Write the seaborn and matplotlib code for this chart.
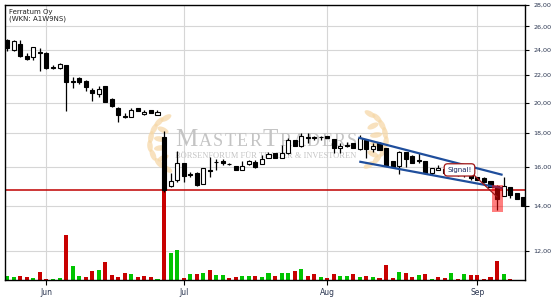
import numpy as np
import pandas as pd
import matplotlib
matplotlib.use("Agg")
import matplotlib.pyplot as plt
import matplotlib.transforms as mtransforms
from matplotlib.ticker import FixedLocator, NullLocator
from matplotlib.patches import Rectangle, Ellipse
import seaborn as sns

# ---------------- data ----------------
title_name = "Ferratum Oy"
title_wkn = "(WKN: A1W9NS)"

opens = [24.82, 23.98, 24.47, 23.49, 23.38, 23.84, 23.73, 22.61, 22.51, 22.77,
         21.57, 21.75, 21.55, 20.89, 20.60, 21.18, 20.25, 19.61, 19.09, 19.01,
         19.61, 19.23, 19.47, 19.16, 17.76, 15.01, 15.31, 16.26, 15.63, 15.70,
         15.10, 15.85, 16.27, 16.32, 16.19, 16.09, 15.83, 16.17, 16.29, 16.17,
         16.50, 16.79, 16.50, 16.78, 17.58, 17.22, 17.74, 17.72, 17.78, 17.82,
         17.62, 17.08, 17.28, 17.42, 17.02, 17.58, 17.02, 17.38, 17.08, 16.35,
         16.07, 16.85, 16.63, 16.39, 16.35, 15.70, 15.85, 15.90, 15.68, 15.76,
         15.55, 15.60, 15.49, 15.40, 15.25, 15.00, 14.46, 14.93, 14.62, 14.42]
highs = [24.88, 24.82, 24.82, 23.71, 24.25, 24.12, 23.84, 22.77, 22.95, 22.77,
         21.87, 21.87, 21.62, 21.01, 21.18, 21.18, 20.34, 19.71, 19.31, 19.61,
         19.61, 19.49, 19.47, 19.49, 18.13, 15.67, 16.94, 16.26, 15.76, 15.76,
         15.94, 16.59, 16.45, 16.45, 16.26, 16.09, 16.32, 16.41, 16.41, 16.69,
         16.88, 16.79, 17.28, 17.68, 17.58, 17.98, 17.98, 17.82, 17.82, 17.82,
         17.62, 17.38, 17.48, 17.42, 17.88, 17.62, 17.42, 17.48, 17.08, 16.35,
         16.92, 16.88, 16.69, 16.79, 16.35, 15.94, 16.13, 15.98, 15.85, 15.80,
         15.70, 15.65, 15.49, 15.49, 15.25, 15.05, 15.45, 14.93, 14.62, 14.42]
lows = [23.92, 23.90, 23.43, 23.16, 23.16, 22.33, 22.46, 22.48, 22.48, 19.44,
        21.01, 21.32, 20.82, 20.13, 20.41, 20.02, 19.71, 18.72, 18.98, 19.01,
        19.42, 19.14, 19.27, 19.14, 14.67, 14.96, 15.22, 15.22, 15.49, 15.00,
        15.10, 15.49, 15.85, 16.13, 16.13, 15.85, 15.83, 16.13, 15.98, 16.17,
        16.50, 16.50, 16.50, 16.75, 17.22, 17.18, 17.38, 17.58, 17.58, 17.72,
        16.78, 16.78, 17.18, 17.08, 16.98, 16.50, 16.85, 16.98, 16.07, 16.03,
        15.63, 16.03, 16.22, 16.22, 15.63, 15.58, 15.82, 15.62, 15.55, 15.50,
        15.45, 15.30, 15.31, 15.15, 14.93, 13.81, 14.46, 14.37, 14.32, 13.97]
closes = [24.12, 24.73, 23.51, 23.24, 24.20, 23.76, 22.56, 22.51, 22.87, 21.49,
          21.45, 21.45, 21.08, 20.65, 20.96, 20.06, 19.76, 19.14, 19.01, 19.49,
          19.42, 19.38, 19.27, 19.36, 14.81, 15.24, 16.22, 15.53, 15.60, 15.05,
          15.94, 15.80, 16.29, 16.26, 16.15, 15.85, 16.07, 16.32, 16.03, 16.45,
          16.73, 16.50, 16.79, 17.58, 17.22, 17.82, 17.72, 17.74, 17.76, 17.72,
          17.08, 17.22, 17.22, 17.08, 17.68, 17.02, 17.24, 16.98, 16.07, 16.03,
          16.88, 16.47, 16.26, 16.37, 15.67, 15.94, 15.94, 15.70, 15.78, 15.55,
          15.62, 15.40, 15.31, 15.19, 14.93, 14.34, 15.00, 14.54, 14.32, 13.97]

# relative volume (no scale shown in the chart)
volumes = [4, 3, 4, 3, 2, 8, 1, 1, 2, 45,
           14, 4, 3, 9, 10, 18, 5, 3, 7, 6,
           3, 4, 3, 1, 120, 27, 30, 2, 6, 6,
           7, 10, 5, 5, 2, 3, 4, 4, 4, 3,
           7, 4, 7, 7, 9, 11, 4, 6, 3, 2,
           6, 4, 4, 6, 3, 4, 3, 2, 15, 2,
           8, 7, 3, 5, 6, 1, 3, 2, 7, 1,
           6, 5, 5, 1, 3, 19, 6, 1, 0, 0]
volume_dir = ("up up down down up down down up up down "
              "up up down down up down down down down up "
              "down down down up down up up down up down "
              "up down up up down down up up down up "
              "up down up up down up down down up down "
              "down up up down up down up down down down "
              "up down down up down up down down up down "
              "up down down down down down up down down down").split()

month_labels = ["Jun", "Jul", "Aug", "Sep"]
month_positions = [6, 27, 49, 72]
price_ticks = [12, 14, 16, 18, 20, 22, 24, 26, 28]

support_level = 14.80
channel_upper_x = [53.75, 75.85]
channel_upper_y = [17.72, 15.58]
channel_lower_x = [53.9, 75.85]
channel_lower_y = [16.31, 14.88]
signal_text = "Signal!"
signal_box_x, signal_box_y = 69.25, 15.85
signal_point_x, signal_point_y = 75.0, 14.44
signal_zone_x = 75
signal_zone_low, signal_zone_high = 13.71, 15.02

watermark_main = "MASTERTRADERS"
watermark_big = [True, False, False, False, False, False, True, False, False, False, False, False, False]
watermark_sub = "BÖRSENFORUM FÜR TRADER & INVESTOREN"

# ---------------- figure ----------------
sns.set_theme(style="white")
plt.rcParams['font.family'] = ['DejaVu Sans']

W, H = 555, 300
fig = plt.figure(figsize=(W / 100, H / 100), dpi=100)
fig.patch.set_facecolor("white")
pos = [5 / W, 20 / H, 520 / W, 275 / H]
xlim = (-0.35, 79.28)
ylim = (10.84, 28.0)

# bottom layer: grid
ax = fig.add_axes(pos)
ax.set_zorder(0)
ax.set_yscale("log")
ax.set_xlim(*xlim)
ax.set_ylim(*ylim)
ax.yaxis.set_major_locator(FixedLocator(price_ticks))
ax.yaxis.set_minor_locator(NullLocator())
ax.xaxis.set_major_locator(FixedLocator(month_positions))
ax.grid(True, color="#d6d6d6", lw=0.8)
ax.tick_params(length=0, labelleft=False, labelbottom=False, labelright=False)
for s in ax.spines.values():
    s.set_visible(False)

# pixel transform for decorations (x right, y down)
PX = mtransforms.Affine2D().scale(1 / W, -1 / H).translate(0, 1) + fig.transFigure

# watermark laurels (decoration)
leaf_col = "#f6d8a8"
left_leaves = [(167, 169, 30), (159, 163, 50), (153, 155, 68), (150, 146, 85),
               (151, 137, 100), (154, 129, 118), (159, 122, 135), (166, 118, 150),
               (163, 158, -25), (160, 148, -8), (160, 139, 8), (163, 130, 25)]
for (lx, ly, ang) in left_leaves:
    ax.add_patch(Ellipse((lx, ly), 12, 5.5, angle=ang, transform=PX,
                         fc=leaf_col, ec="none", alpha=0.75, clip_on=False))
    mx = 2 * 268 - lx
    ax.add_patch(Ellipse((mx, ly - 4), 12, 5.5, angle=180 - ang, transform=PX,
                         fc=leaf_col, ec="none", alpha=0.75, clip_on=False))

# watermark text
fig.canvas.draw()
renderer = fig.canvas.get_renderer()
wm_col = "#c4c4c4"
letters = []
for ch, big in zip(watermark_main, watermark_big):
    t = ax.text(0, 0, ch, transform=PX, fontsize=18 if big else 13,
                family="Liberation Serif", color=wm_col, va="baseline", ha="left")
    letters.append(t)
widths = [t.get_window_extent(renderer).width for t in letters]
gap = (182 - sum(widths)) / (len(letters) - 1)
xcur = 175
for t, w in zip(letters, widths):
    t.set_position((xcur, 146))
    xcur += w + gap
sub = ax.text(175, 158.5, watermark_sub, transform=PX, fontsize=6,
              family="Liberation Serif", color=wm_col, va="baseline", ha="left")
sw = sub.get_window_extent(renderer).width
sub.set_fontsize(6 * 182 / sw)

# middle layer: volume bars (seaborn)
axv = fig.add_axes(pos)
axv.set_zorder(1)
axv.patch.set_visible(False)
vol_df = pd.DataFrame({"idx": np.arange(len(volumes)), "volume": volumes, "dir": volume_dir})
sns.barplot(data=vol_df, x="idx", y="volume", hue="dir",
            palette={"up": "#00c400", "down": "#c80000"}, dodge=False,
            native_scale=True, width=0.62, saturation=1, errorbar=None,
            legend=False, ax=axv, linewidth=0)
axv.set_xlim(*xlim)
axv.set_ylim(0, 275)
axv.axis("off")

# top layer: candles, annotations, axes
axc = fig.add_axes(pos, sharex=ax, sharey=ax)
axc.set_zorder(2)
axc.patch.set_visible(False)
axc.grid(False)

idx = np.arange(len(opens))
o = np.array(opens)
c = np.array(closes)
up = c >= o
axc.axhline(support_level, color="#c00000", lw=1.1, zorder=1)
axc.vlines(idx, lows, highs, color="black", lw=0.9, zorder=2)
axc.bar(idx, np.abs(c - o), bottom=np.minimum(o, c), width=0.62,
        color=np.where(up, "white", "black"), edgecolor="black", lw=0.8, zorder=3)

axc.plot(channel_upper_x, channel_upper_y, color="#1f4e9c", lw=1.6, zorder=4,
         solid_capstyle="butt")
axc.plot(channel_lower_x, channel_lower_y, color="#1f4e9c", lw=1.6, zorder=4,
         solid_capstyle="butt")

axc.add_patch(Rectangle((signal_zone_x - 0.85, signal_zone_low), 1.7,
                        signal_zone_high - signal_zone_low,
                        fc="#ff0000", ec="none", alpha=0.5, zorder=5))

axc.annotate(signal_text, xy=(signal_point_x, signal_point_y),
             xytext=(signal_box_x, signal_box_y), fontsize=5, color="#1a2660",
             ha="center", va="center", zorder=6,
             bbox=dict(boxstyle="round,pad=0.45,rounding_size=0.5", fc="white",
                       ec="#a01414", lw=0.9),
             arrowprops=dict(arrowstyle="-", color="#a01414", lw=0.9,
                             shrinkA=0, shrinkB=0, relpos=(1.0, 0.0)))

# title
axc.text(4 / 520, 1 - 4 / 275, title_name + "\n" + title_wkn,
         transform=axc.transAxes, fontsize=5, color="#222222", va="top",
         ha="left", linespacing=1.15)

# axes decoration
axc.yaxis.tick_right()
axc.yaxis.set_major_locator(FixedLocator(price_ticks))
axc.set_yticklabels([f"{v:.2f}".replace(".", ",") for v in price_ticks])
axc.set_xticks(month_positions)
axc.set_xticklabels(month_labels)
axc.tick_params(axis="y", which="major", right=True, left=False, direction="out",
                length=3, width=0.8, pad=3, labelsize=4.6, color="black",
                labelcolor="#2a3550")
axc.tick_params(axis="y", which="minor", length=0)
axc.tick_params(axis="x", bottom=True, direction="out", length=3.5, width=0.8,
                pad=2, labelsize=5.5, color="black", labelcolor="#2a3550")
for s in axc.spines.values():
    s.set_visible(True)
    s.set_color("black")
    s.set_linewidth(1.0)
axc.set_xlim(*xlim)
axc.set_ylim(*ylim)

fig.savefig("out.png", dpi=100, facecolor="white")
